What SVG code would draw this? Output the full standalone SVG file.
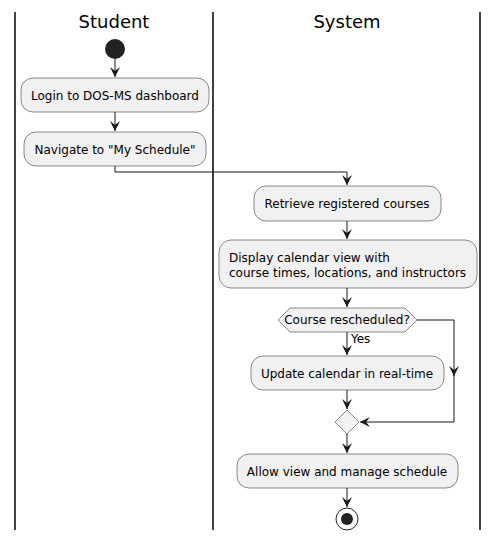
<svg xmlns="http://www.w3.org/2000/svg" width="499" height="541" viewBox="0 0 499 541">
<defs>
<style>
.lane{stroke:#000;stroke-width:1.5;fill:none}
.title{font-family:"DejaVu Sans",sans-serif;font-size:18px;fill:#000;text-anchor:middle}
.box{fill:#F1F1F1;stroke:#181818;stroke-width:0.5}
.t{font-family:"DejaVu Sans",sans-serif;font-size:12px;fill:#000}
.c{text-anchor:middle}
.ln{stroke:#181818;stroke-width:1;fill:none}
.ah{fill:#181818;stroke:#181818;stroke-width:1}
</style>
<marker id="arr" viewBox="0 0 12 12" refX="10" refY="5" markerWidth="12" markerHeight="12" markerUnits="userSpaceOnUse" orient="auto">
<path d="M0,0 L10,5 L0,10 L4,5 Z" fill="#181818"/>
</marker>
</defs>
<rect width="499" height="541" fill="#fff"/>
<g id="lanes">
<line class="lane" x1="15" y1="12" x2="15" y2="530"/>
<line class="lane" x1="213" y1="12" x2="213" y2="530"/>
<line class="lane" x1="480" y1="12" x2="480" y2="530"/>
<text class="title" x="114" y="28">Student</text>
<text class="title" x="347" y="28">System</text>
</g>
<g id="connectors">
<path class="ln" d="M115,59 V77" marker-end="url(#arr)"/>
<path class="ln" d="M115,112 V131" marker-end="url(#arr)"/>
<path class="ln" d="M115,166 V172 H347 V185" marker-end="url(#arr)"/>
<path class="ln" d="M347,221 V239" marker-end="url(#arr)"/>
<path class="ln" d="M347,288 V307" marker-end="url(#arr)"/>
<path class="ln" d="M347,332 V355" marker-end="url(#arr)"/>
<path class="ln" d="M347,390 V409" marker-end="url(#arr)"/>
<path class="ln" d="M417,320 H454 V376" marker-end="url(#arr)"/>
<path class="ln" d="M454,370 V422 H360" marker-end="url(#arr)"/>
<path class="ln" d="M347,434 V453" marker-end="url(#arr)"/>
<path class="ln" d="M347,488 V507" marker-end="url(#arr)"/>
<text class="t" x="351" y="343" font-size="11">Yes</text>
</g>
<g id="start"><circle cx="115" cy="49" r="10" fill="#222"/></g>
<g id="login"><rect class="box" x="21" y="78" width="188" height="34" rx="12"/><text class="t c" x="115" y="100">Login to DOS-MS dashboard</text></g>
<g id="navigate"><rect class="box" x="24" y="132" width="182" height="34" rx="12"/><text class="t c" x="115" y="154">Navigate to "My Schedule"</text></g>
<g id="retrieve"><rect class="box" x="254" y="186" width="187" height="35" rx="12"/><text class="t c" x="347" y="208">Retrieve registered courses</text></g>
<g id="display"><rect class="box" x="219" y="240" width="258" height="48" rx="12"/><text class="t" x="229" y="262">Display calendar view with</text><text class="t" x="229" y="277">course times, locations, and instructors</text></g>
<g id="decision"><polygon class="box" points="278,320 290,308 405,308 417,320 405,332 290,332"/><text class="t c" x="347" y="324" font-size="11">Course rescheduled?</text></g>
<g id="update"><rect class="box" x="251" y="356" width="193" height="34" rx="12"/><text class="t c" x="347" y="378">Update calendar in real-time</text></g>
<g id="merge"><polygon class="box" points="347,410 359,422 347,434 335,422"/></g>
<g id="allow"><rect class="box" x="237" y="454" width="221" height="34" rx="12"/><text class="t c" x="347" y="476">Allow view and manage schedule</text></g>
<g id="end"><circle cx="347" cy="519" r="11" fill="none" stroke="#222" stroke-width="1"/><circle cx="347" cy="519" r="6" fill="#222"/></g>
</svg>
